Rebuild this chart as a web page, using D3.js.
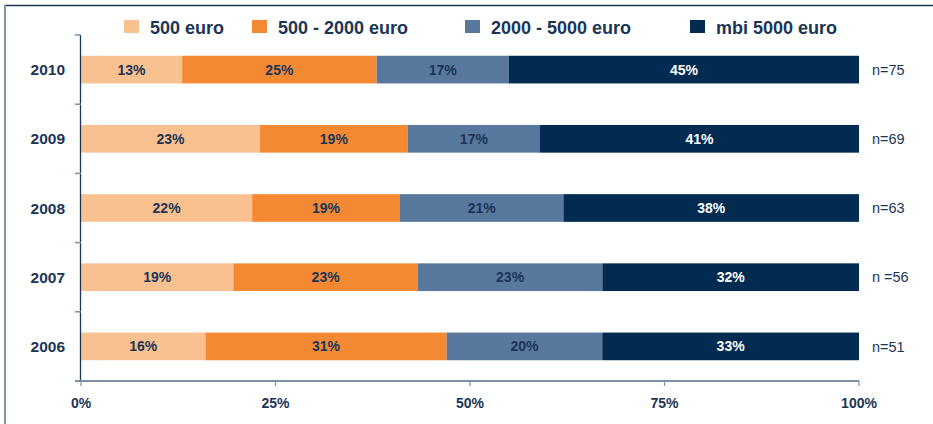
<!DOCTYPE html>
<html>
<head>
<meta charset="utf-8">
<script src="https://cdn.jsdelivr.net/npm/d3@7"></script>
<style>
  html, body { margin: 0; padding: 0; background: #fff; }
  svg { display: block; }
  text { font-family: "Liberation Sans", Arial, sans-serif; }
</style>
</head>
<body>
<svg id="chart" width="933" height="424"></svg>
<script>
// ---- data ----
const years = ["2010", "2009", "2008", "2007", "2006"];
const seriesNames = ["500 euro", "500 - 2000 euro", "2000 - 5000 euro", "mbi 5000 euro"];
const s500 = [13, 23, 22, 19, 16];
const s500to2000 = [25, 19, 19, 23, 31];
const s2000to5000 = [17, 17, 21, 23, 20];
const s5000plus = [45, 41, 38, 32, 33];
const nLabels = ["n=75", "n=69", "n=63", "n =56", "n=51"];
const xTicks = [0, 0.25, 0.5, 0.75, 1];
const xTickLabels = ["0%", "25%", "50%", "75%", "100%"];

// ---- styles ----
const colors = ["#F9C190", "#F38A33", "#58789D", "#022B52"];
const labelColors = ["#1b3557", "#1b3557", "#1b3557", "#ffffff"];
const navy = "#1b3557";
const axisGray = "#7d90a7";

const svg = d3.select("#chart");

// frame
svg.append("line").attr("x1", 4).attr("x2", 933).attr("y1", 5.5).attr("y2", 5.5)
  .attr("stroke", "#1b3550").attr("stroke-width", 1.5);
svg.append("line").attr("x1", 5).attr("x2", 5).attr("y1", 5).attr("y2", 424)
  .attr("stroke", "#8497ad").attr("stroke-width", 2);

const allSeries = [s500, s500to2000, s2000to5000, s5000plus];
const rows = years.map((y, i) => {
  const vals = allSeries.map(s => s[i]);
  const total = d3.sum(vals);
  let cum = 0;
  return vals.map((v, k) => {
    const d = { year: y, k, value: v, x0: cum / total, x1: (cum + v) / total };
    cum += v;
    return d;
  });
});

const x = d3.scaleLinear().domain([0, 1]).range([81, 859]);
const y = d3.scaleBand().domain(years).range([35, 381]).paddingInner(0.6).paddingOuter(0.3);
const yOuter = d3.scaleBand().domain(years).range([35, 381]);

// bars
const g = svg.append("g");
rows.forEach(row => {
  g.selectAll(null).data(row).enter().append("rect")
    .attr("x", d => x(d.x0))
    .attr("y", d => y(d.year))
    .attr("width", d => x(d.x1) - x(d.x0))
    .attr("height", y.bandwidth())
    .attr("fill", d => colors[d.k]);
  g.selectAll(null).data(row).enter().append("text")
    .attr("x", d => (x(d.x0) + x(d.x1)) / 2)
    .attr("y", d => y(d.year) + y.bandwidth() / 2)
    .attr("dy", "0.36em")
    .attr("text-anchor", "middle")
    .attr("font-size", 14)
    .attr("font-weight", "bold")
    .attr("fill", d => labelColors[d.k])
    .text(d => d.value + "%");
});

// y axis
svg.append("line").attr("x1", 80.5).attr("x2", 80.5).attr("y1", 35).attr("y2", 381)
  .attr("stroke", navy).attr("stroke-width", 1.3);
const yTickPos = years.map(yr => yOuter(yr));
svg.selectAll(null).data(yTickPos).enter().append("line")
  .attr("x1", 75).attr("x2", 81).attr("y1", d => d).attr("y2", d => d)
  .attr("stroke", axisGray).attr("stroke-width", 1.5);
svg.selectAll(null).data(years).enter().append("text")
  .attr("x", 65)
  .attr("y", d => y(d) + y.bandwidth() / 2)
  .attr("dy", "0.36em")
  .attr("text-anchor", "end")
  .attr("font-size", 15.5)
  .attr("font-weight", "bold")
  .attr("fill", navy)
  .text(d => d);

// x axis
svg.append("line").attr("x1", 75).attr("x2", 859).attr("y1", 381).attr("y2", 381)
  .attr("stroke", axisGray).attr("stroke-width", 2);
svg.selectAll(null).data(xTicks).enter().append("line")
  .attr("x1", d => x(d)).attr("x2", d => x(d)).attr("y1", 381).attr("y2", 386)
  .attr("stroke", axisGray).attr("stroke-width", 1.2);
svg.selectAll(null).data(xTicks).enter().append("text")
  .attr("x", d => x(d))
  .attr("y", 408)
  .attr("text-anchor", "middle")
  .attr("font-size", 14)
  .attr("font-weight", "bold")
  .attr("fill", navy)
  .text((d, i) => xTickLabels[i]);

// n labels
svg.selectAll(null).data(years).enter().append("text")
  .attr("x", 872)
  .attr("y", d => y(d) + y.bandwidth() / 2)
  .attr("dy", "0.36em")
  .attr("font-size", 14.5)
  .attr("fill", navy)
  .text((d, i) => nLabels[i]);

// legend
const legendX = [124, 252, 465, 690];
const lg = svg.selectAll(null).data(seriesNames).enter().append("g")
  .attr("transform", (d, i) => `translate(${legendX[i]},0)`);
lg.append("rect").attr("x", 0).attr("y", 20).attr("width", 15).attr("height", 13)
  .attr("fill", (d, i) => colors[i]);
lg.append("text").attr("x", 26).attr("y", 34)
  .attr("font-size", 18).attr("font-weight", "bold").attr("fill", navy)
  .text(d => d);
</script>
</body>
</html>
